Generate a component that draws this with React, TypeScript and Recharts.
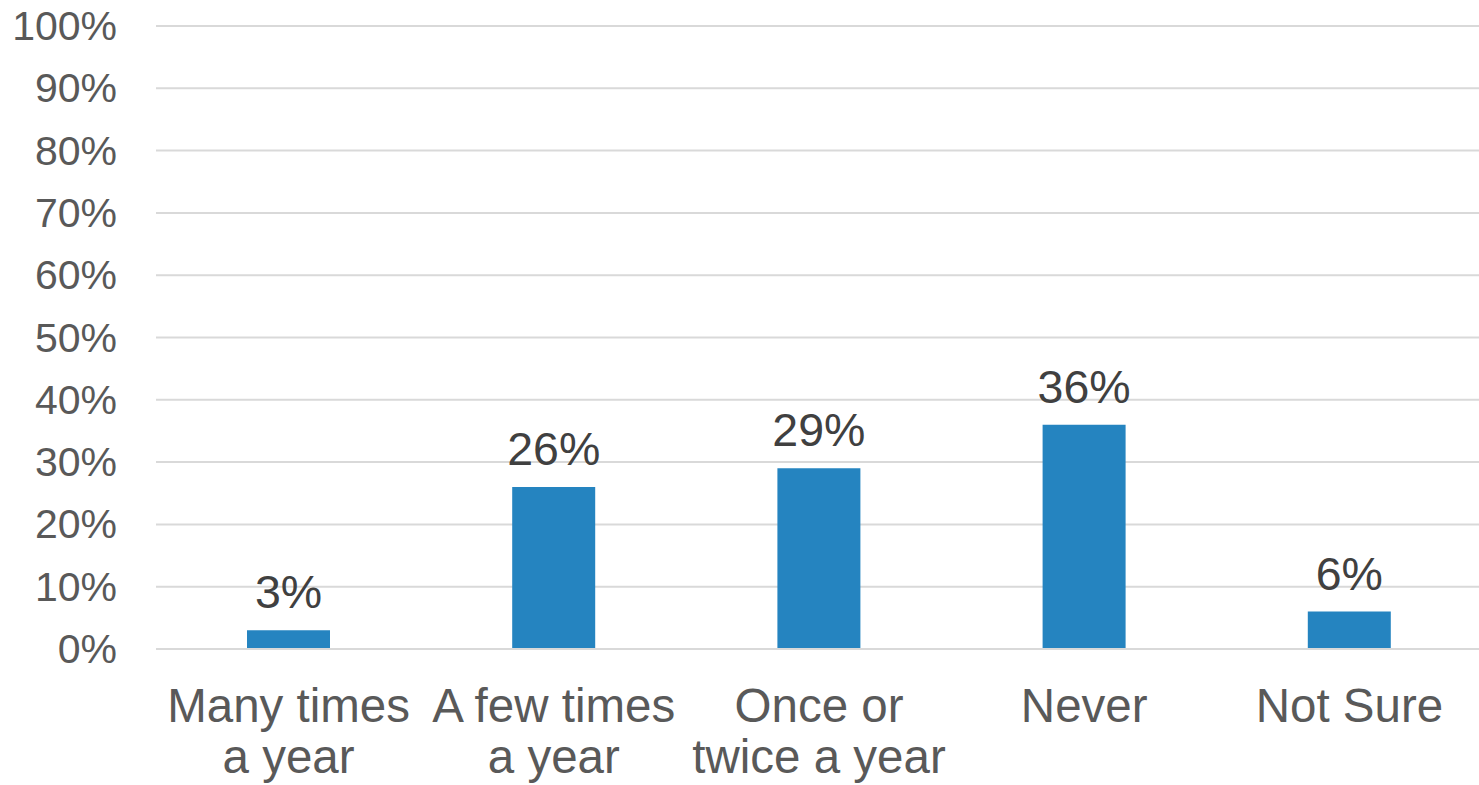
import React from 'react';
import { BarChart, Bar, XAxis, YAxis, CartesianGrid, LabelList } from 'recharts';

const categories = ['Many times|a year', 'A few times|a year', 'Once or|twice a year', 'Never', 'Not Sure'];
const values = [3, 26, 29, 36, 6];
const yTicks = [0, 10, 20, 30, 40, 50, 60, 70, 80, 90, 100];

const data = categories.map((c, i) => ({ name: c, value: values[i] }));

const FONT = '"Liberation Sans", Arial, sans-serif';

const YTick = (props: any) => {
  const { y, payload } = props;
  return (
    <text x={117} y={y} textAnchor="end" dominantBaseline="central" fontFamily={FONT} fontSize={41} fill="#595959">
      {payload.value + '%'}
    </text>
  );
};

const XTick = (props: any) => {
  const { x, payload } = props;
  const lines = String(payload.value).split('|');
  return (
    <text x={x} y={722} textAnchor="middle" fontFamily={FONT} fontSize={47.5} fill="#595959">
      {lines.map((l, i) => (
        <tspan key={i} x={x} y={722 + i * 51}>{l}</tspan>
      ))}
    </text>
  );
};

const renderLabel = (props: any) => {
  const { x, y, width, value } = props;
  return (
    <text x={x + width / 2} y={y - 22} textAnchor="middle" fontFamily={FONT} fontSize={46.5} fill="#404040">
      {value + '%'}
    </text>
  );
};

export default function App() {
  return (
    <div style={{ position: 'absolute', left: 0, top: 0, width: 1479, height: 785, background: '#fff', overflow: 'hidden' }}>
      <BarChart width={1479} height={785} data={data} margin={{ top: 26, right: -3, bottom: 0, left: 0 }}>
        <CartesianGrid vertical={false} stroke="#D9D9D9" strokeWidth={2} />
        <XAxis
          dataKey="name"
          height={136}
          axisLine={{ stroke: '#D9D9D9', strokeWidth: 2 }}
          tickLine={false}
          tick={<XTick />}
          interval={0}
        />
        <YAxis
          width={156}
          domain={[0, 100]}
          ticks={yTicks}
          axisLine={false}
          tickLine={false}
          tick={<YTick />}
          interval={0}
        />
        <Bar dataKey="value" fill="#2584C0" barSize={83} isAnimationActive={false}>
          <LabelList dataKey="value" content={renderLabel} />
        </Bar>
      </BarChart>
    </div>
  );
}
